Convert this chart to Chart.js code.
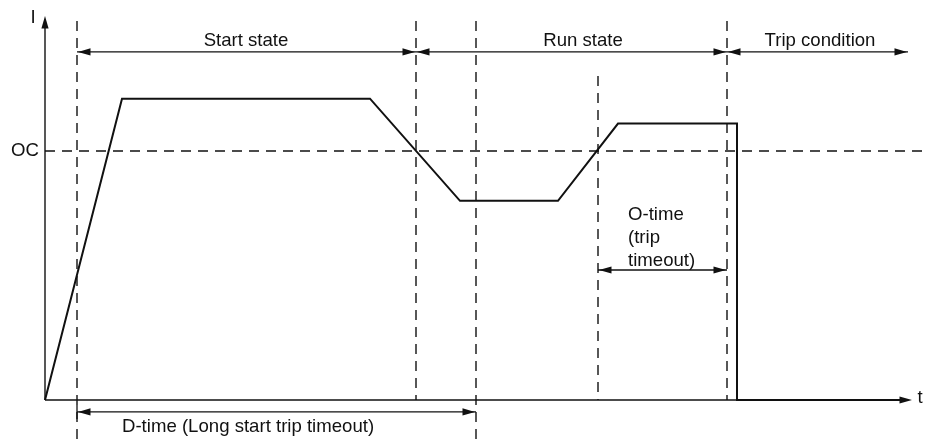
<!DOCTYPE html>
<html><head><meta charset="utf-8">
<script src="https://cdn.jsdelivr.net/npm/chart.js@4/dist/chart.umd.min.js"></script>
<style>html,body{margin:0;padding:0;background:#fff}canvas{display:block}</style>
</head><body>
<canvas id="c" width="927" height="439"></canvas>
<script>
// Values: time t (arbitrary units), current I (relative to OC = 1)
const curveT = [0, 7.7, 32.5, 41.5, 51.3, 57.3, 69.2, 69.2, 86.2];
const curveI = [0, 1.21, 1.21, 0.80, 0.80, 1.11, 1.11, 0, 0];
const ocLevel = 1.0;
// vertical dashed markers: start, run, end of D-time, start of O-time, trip
const markerT = [3.2, 37.1, 43.1, 55.3, 68.2];
const markerTopI = [1.522, 1.522, 1.522, 1.301, 1.522];
const markerBottomI = [-0.157, 0, -0.157, 0, 0];
// state spans
const stateNames = ['Start state', 'Run state', 'Trip condition'];
const stateFrom = [3.2, 37.1, 68.2];
const stateTo = [37.1, 68.2, 86.3];
const stateLevel = 1.398;
// timeouts
const oTimeFrom = 55.3, oTimeTo = 68.2, oTimeLevel = 0.522;
const dTimeFrom = 3.2, dTimeTo = 43.1, dTimeLevel = -0.048;
const axisEndT = 86.7, axisEndI = 1.542;

const X_MIN = -4.5, X_MAX = 88.2, Y_MIN = -0.1566, Y_MAX = 1.6064;
const FONT = '18.6px "Liberation Sans", Arial, Helvetica, sans-serif';
const INK = '#111';

const seg = (x1, y1, x2, y2) => [{x: x1, y: y1}, {x: x2, y: y2}];
const datasets = [];
// OC dashed line
datasets.push({data: seg(0, ocLevel, X_MAX, ocLevel), borderDash: [10, 7], borderWidth: 1.3});
// vertical dashed markers
markerT.forEach((t, i) => datasets.push({data: seg(t, markerTopI[i], t, markerBottomI[i]), borderDash: [10, 7], borderWidth: 1.4}));
// axes
datasets.push({data: seg(0, 0, 0, axisEndI - 0.02), borderWidth: 1.4});
datasets.push({data: seg(0, 0, axisEndT - 0.5, 0), borderWidth: 1.4});
// arrows (shafts)
stateFrom.forEach((t, i) => datasets.push({data: seg(t, stateLevel, stateTo[i], stateLevel), borderWidth: 1.3}));
datasets.push({data: seg(oTimeFrom, oTimeLevel, oTimeTo, oTimeLevel), borderWidth: 1.3});
datasets.push({data: seg(dTimeFrom, dTimeLevel, dTimeTo, dTimeLevel), borderWidth: 1.3});
// current curve
datasets.push({data: curveT.map((t, i) => ({x: t, y: curveI[i]})), borderWidth: 2});
datasets.forEach(d => { d.showLine = true; d.borderColor = INK; d.pointRadius = 0; d.fill = false; d.tension = 0; });

function head(ctx, x, y, dir) { // dir: 'l','r','u'
  const L = 12.5, W = 3.6;
  ctx.beginPath();
  if (dir === 'r') { ctx.moveTo(x, y); ctx.lineTo(x - L, y - W); ctx.lineTo(x - L, y + W); }
  else if (dir === 'l') { ctx.moveTo(x, y); ctx.lineTo(x + L, y - W); ctx.lineTo(x + L, y + W); }
  else { ctx.moveTo(x, y); ctx.lineTo(x - W, y + L); ctx.lineTo(x + W, y + L); }
  ctx.closePath(); ctx.fill();
}

const overlay = {
  id: 'overlay',
  afterDatasetsDraw(chart) {
    const ctx = chart.ctx, xs = chart.scales.x, ys = chart.scales.y;
    const px = v => xs.getPixelForValue(v), py = v => ys.getPixelForValue(v);
    ctx.save();
    ctx.fillStyle = INK; ctx.strokeStyle = INK;
    // axis arrowheads
    head(ctx, px(0), py(axisEndI), 'u');
    head(ctx, px(axisEndT), py(0), 'r');
    // state arrows
    stateFrom.forEach((t, i) => { head(ctx, px(t) + 1, py(stateLevel), 'l'); head(ctx, px(stateTo[i]) - 1, py(stateLevel), 'r'); });
    head(ctx, px(oTimeFrom) + 1, py(oTimeLevel), 'l'); head(ctx, px(oTimeTo) - 1, py(oTimeLevel), 'r');
    head(ctx, px(dTimeFrom) + 1, py(dTimeLevel), 'l'); head(ctx, px(dTimeTo) - 1, py(dTimeLevel), 'r');
    ctx.lineWidth = 1.3;
    ctx.beginPath(); ctx.moveTo(px(dTimeFrom), py(dTimeLevel) - 7); ctx.lineTo(px(dTimeFrom), py(dTimeLevel) + 7); ctx.stroke();
    // texts
    ctx.font = FONT; ctx.textBaseline = 'middle';
    ctx.textAlign = 'center';
    ctx.fillText('I', px(-1.2), py(1.534));
    ctx.fillText('t', px(87.5), py(0.008));
    const labelT = [20.1, 53.8, 77.5];
    stateNames.forEach((n, i) => ctx.fillText(n, px(labelT[i]), py(1.444)));
    ctx.textAlign = 'right';
    ctx.fillText('OC', px(-0.6), py(1.0));
    ctx.textAlign = 'left';
    ['O-time', '(trip', 'timeout)'].forEach((s, i) => ctx.fillText(s, px(58.3), py(0.743) + i * 23));
    ctx.fillText('D-time (Long start trip timeout)', px(7.7), py(-0.108));
    ctx.restore();
  }
};

new Chart(document.getElementById('c'), {
  type: 'scatter',
  data: {datasets},
  options: {
    responsive: false, animation: false, devicePixelRatio: 1,
    layout: {padding: 0},
    plugins: {legend: {display: false}, tooltip: {enabled: false}},
    scales: {
      x: {type: 'linear', display: false, min: X_MIN, max: X_MAX},
      y: {type: 'linear', display: false, min: Y_MIN, max: Y_MAX}
    }
  },
  plugins: [overlay]
});
</script>
</body></html>
